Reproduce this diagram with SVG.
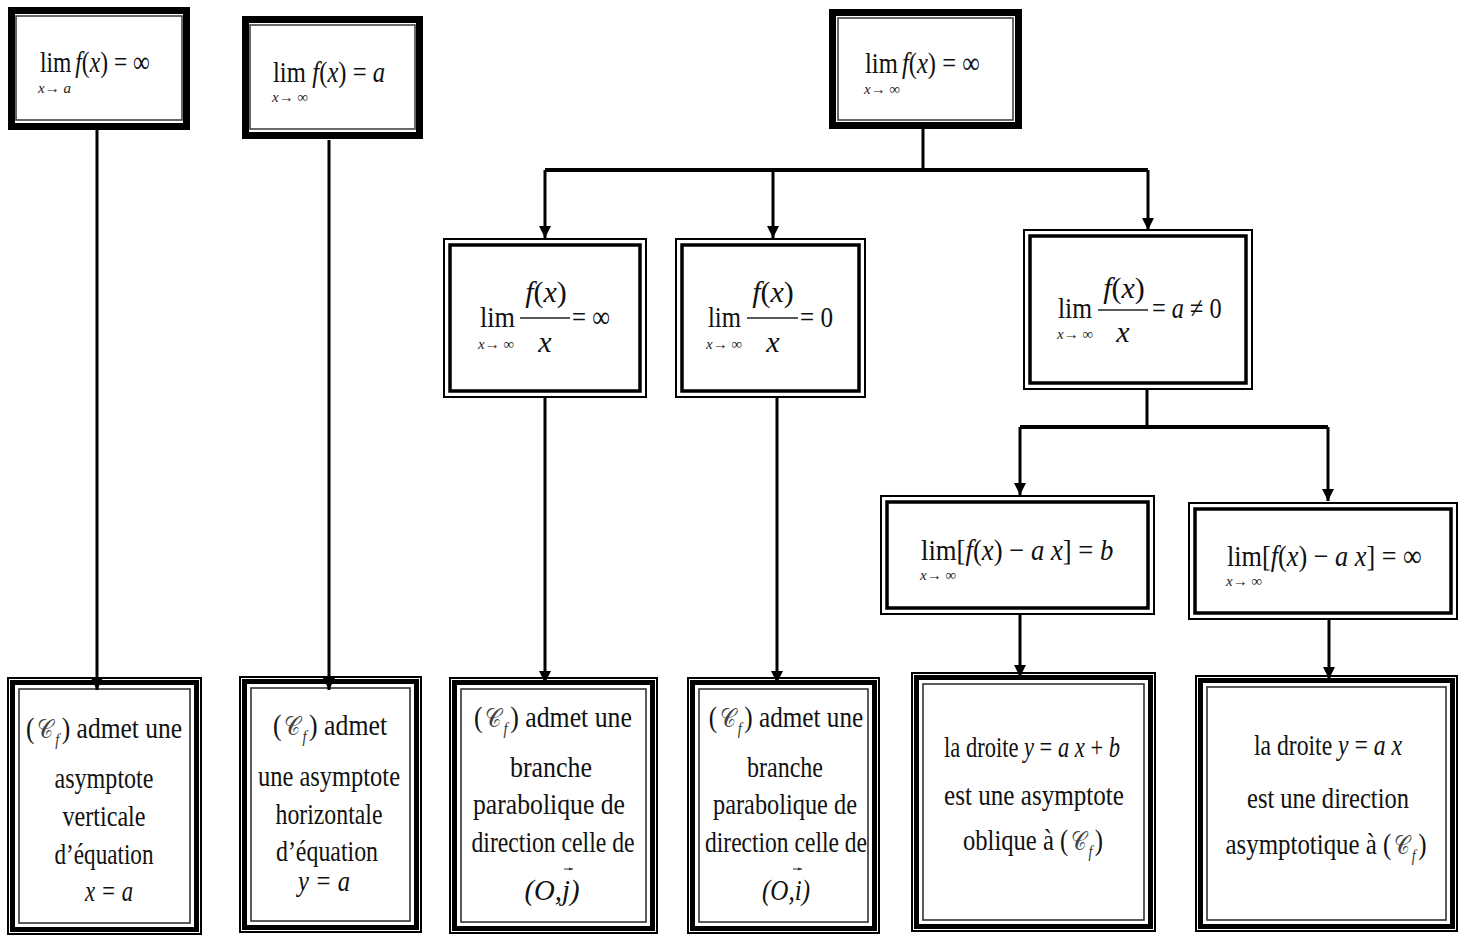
<svg xmlns="http://www.w3.org/2000/svg" width="1467" height="937" viewBox="0 0 1467 937">
<style>
.t{font-family:"Liberation Serif","DejaVu Serif",serif;fill:#111;font-size:30px}
.sub{font-family:"Liberation Serif",serif;fill:#222;font-size:15px}
.i{font-style:italic}
.scr{font-family:"DejaVu Serif","DejaVu Sans",serif;fill:#444;font-size:26px}
.fs{font-family:"Liberation Serif",serif;font-style:italic;fill:#333;font-size:17px}
.o1{fill:#fff;stroke:#000;stroke-width:7}
.o2{fill:none;stroke:#444;stroke-width:1.6}
.m1{fill:#fff;stroke:#000;stroke-width:2}
.m2{fill:none;stroke:#000;stroke-width:3.5}
.b1{fill:#fff;stroke:#000;stroke-width:2}
.b2{fill:none;stroke:#000;stroke-width:5}
.b3{fill:none;stroke:#333;stroke-width:1.6}
.c{fill:none;stroke:#000;stroke-width:3}
.h{fill:none;stroke:#000;stroke-width:4}
.fl{stroke:#222;stroke-width:1.6}
.va{fill:none;stroke:#333;stroke-width:1}
</style>
<defs>
<marker id="ah" viewBox="0 0 10 10" refX="10" refY="5" markerWidth="4" markerHeight="4.5" orient="auto" markerUnits="strokeWidth">
<path d="M0,0 L10,5 L0,10 z" fill="#000"/>
</marker>
<marker id="va" viewBox="0 0 10 10" refX="10" refY="5" markerWidth="4" markerHeight="4" orient="auto" markerUnits="strokeWidth">
<path d="M0,1 L10,5 L0,9 z" fill="#333"/>
</marker>
</defs>

<g id="top1">
<rect class="o1" x="11.5" y="10.5" width="175" height="116"/>
<rect class="o2" x="16" y="16" width="166" height="104"/>
<text class="t" font-size="32" transform="translate(40,72) scale(0.785,1)">lim<tspan dx="5" class="i">f</tspan>(<tspan class="i">x</tspan>) = ∞</text>
<text class="sub" x="38" y="93"><tspan class="i">x</tspan>→ <tspan class="i">a</tspan></text>
</g>

<g id="top2">
<rect class="o1" x="245.5" y="19.5" width="174" height="116"/>
<rect class="o2" x="250" y="25" width="165" height="104"/>
<text class="t" font-size="32" transform="translate(273,82) scale(0.82,1)">lim<tspan dx="8" class="i">f</tspan>(<tspan class="i">x</tspan>) = <tspan class="i">a</tspan></text>
<text class="sub" x="272" y="102"><tspan class="i">x</tspan>→ ∞</text>
</g>

<g id="top3">
<rect class="o1" x="832.5" y="12.5" width="186" height="113"/>
<rect class="o2" x="838" y="18" width="175" height="102"/>
<text class="t" font-size="32" transform="translate(865,73) scale(0.82,1)">lim<tspan dx="5" class="i">f</tspan>(<tspan class="i">x</tspan>) = ∞</text>
<text class="sub" x="864" y="94"><tspan class="i">x</tspan>→ ∞</text>
</g>

<g id="midA">
<rect class="m1" x="444" y="239" width="202" height="158"/>
<rect class="m2" x="450" y="245" width="190" height="146"/>
<text class="t" x="480" y="327" textLength="35" lengthAdjust="spacingAndGlyphs">lim</text>
<text class="sub" x="478" y="349" font-size="14"><tspan class="i">x</tspan>→ ∞</text>
<text class="t" x="546" y="302" text-anchor="middle"><tspan class="i">f</tspan>(<tspan class="i">x</tspan>)</text>
<line class="fl" x1="520" y1="318" x2="570" y2="318"/>
<text class="t i" x="545" y="352" text-anchor="middle">x</text>
<text class="t" x="572" y="327" textLength="38" lengthAdjust="spacingAndGlyphs">= ∞</text>
</g>

<g id="midB">
<rect class="m1" x="676" y="239" width="189" height="158"/>
<rect class="m2" x="682" y="245" width="177" height="146"/>
<text class="t" x="708" y="327" textLength="33" lengthAdjust="spacingAndGlyphs">lim</text>
<text class="sub" x="706" y="349" font-size="14"><tspan class="i">x</tspan>→ ∞</text>
<text class="t" x="773" y="302" text-anchor="middle"><tspan class="i">f</tspan>(<tspan class="i">x</tspan>)</text>
<line class="fl" x1="747" y1="318" x2="798" y2="318"/>
<text class="t i" x="773" y="352" text-anchor="middle">x</text>
<text class="t" x="800" y="327" textLength="33" lengthAdjust="spacingAndGlyphs">= 0</text>
</g>

<g id="midC">
<rect class="m1" x="1024" y="230" width="228" height="159"/>
<rect class="m2" x="1030" y="236" width="216" height="147"/>
<text class="t" x="1058" y="318" textLength="34" lengthAdjust="spacingAndGlyphs">lim</text>
<text class="sub" x="1057" y="339" font-size="14"><tspan class="i">x</tspan>→ ∞</text>
<text class="t" x="1124" y="298" text-anchor="middle"><tspan class="i">f</tspan>(<tspan class="i">x</tspan>)</text>
<line class="fl" x1="1098" y1="310" x2="1148" y2="310"/>
<text class="t i" x="1123" y="342" text-anchor="middle">x</text>
<text class="t" transform="translate(1152,318) scale(0.81,1)">= <tspan class="i">a</tspan> ≠ 0</text>
</g>

<g id="midD">
<rect class="m1" x="881" y="496" width="273" height="118"/>
<rect class="m2" x="887" y="502" width="261" height="106"/>
<text class="t" transform="translate(921,560) scale(0.89,1)">lim[<tspan class="i">f</tspan>(<tspan class="i">x</tspan>) − <tspan class="i">a x</tspan>] = <tspan class="i">b</tspan></text>
<text class="sub" x="920" y="580"><tspan class="i">x</tspan>→ ∞</text>
</g>

<g id="midE">
<rect class="m1" x="1189" y="503" width="268" height="116"/>
<rect class="m2" x="1195" y="509" width="256" height="104"/>
<text class="t" transform="translate(1227,566) scale(0.875,1)">lim[<tspan class="i">f</tspan>(<tspan class="i">x</tspan>) − <tspan class="i">a x</tspan>] = ∞</text>
<text class="sub" x="1226" y="586"><tspan class="i">x</tspan>→ ∞</text>
</g>

<g id="bot1">
<rect class="b1" x="8" y="678" width="193" height="256"/>
<rect class="b2" x="12.5" y="682.5" width="184" height="247"/>
<rect class="b3" x="19" y="689" width="171" height="234"/>
<text class="t" text-anchor="middle" transform="translate(104,738) scale(0.85,1)">(<tspan class="scr" dx="3">𝒞</tspan><tspan class="fs" dx="2" dy="7">f</tspan><tspan dy="-7" dx="3">) admet une</tspan></text>
<text class="t" x="104" y="788" text-anchor="middle" textLength="99" lengthAdjust="spacingAndGlyphs">asymptote</text>
<text class="t" x="104" y="826" text-anchor="middle" textLength="83" lengthAdjust="spacingAndGlyphs">verticale</text>
<text class="t" x="104" y="864" text-anchor="middle" textLength="99" lengthAdjust="spacingAndGlyphs">d’équation</text>
<text class="t i" x="109" y="901" text-anchor="middle" font-size="32" textLength="48" lengthAdjust="spacingAndGlyphs">x = a</text>
</g>

<g id="bot2">
<rect class="b1" x="240" y="677" width="181" height="255"/>
<rect class="b2" x="244.5" y="681.5" width="172" height="246"/>
<rect class="b3" x="251" y="688" width="159" height="233"/>
<text class="t" text-anchor="middle" transform="translate(330,735) scale(0.86,1)">(<tspan class="scr" dx="3">𝒞</tspan><tspan class="fs" dx="2" dy="7">f</tspan><tspan dy="-7" dx="3">) admet</tspan></text>
<text class="t" x="329" y="786" text-anchor="middle" textLength="142" lengthAdjust="spacingAndGlyphs">une asymptote</text>
<text class="t" x="329" y="824" text-anchor="middle" textLength="107" lengthAdjust="spacingAndGlyphs">horizontale</text>
<text class="t" x="327" y="861" text-anchor="middle" textLength="102" lengthAdjust="spacingAndGlyphs">d’équation</text>
<text class="t i" x="324" y="891" text-anchor="middle" textLength="52" lengthAdjust="spacingAndGlyphs">y = a</text>
</g>

<g id="bot3">
<rect class="b1" x="450" y="678" width="207" height="255"/>
<rect class="b2" x="454.5" y="682.5" width="198" height="246"/>
<rect class="b3" x="461" y="689" width="185" height="233"/>
<text class="t" text-anchor="middle" transform="translate(553,727) scale(0.86,1)">(<tspan class="scr" dx="3">𝒞</tspan><tspan class="fs" dx="2" dy="7">f</tspan><tspan dy="-7" dx="3">) admet une</tspan></text>
<text class="t" x="551" y="777" text-anchor="middle" textLength="82" lengthAdjust="spacingAndGlyphs">branche</text>
<text class="t" x="549" y="814" text-anchor="middle" textLength="152" lengthAdjust="spacingAndGlyphs">parabolique de</text>
<text class="t" x="553" y="852" text-anchor="middle" textLength="163" lengthAdjust="spacingAndGlyphs">direction celle de</text>
<text class="t i" x="552" y="900" text-anchor="middle" font-size="32" textLength="55" lengthAdjust="spacingAndGlyphs">(O,j)</text>
<path class="va" d="M564,869 H573" marker-end="url(#va)"/>
</g>

<g id="bot4">
<rect class="b1" x="688" y="678" width="191" height="255"/>
<rect class="b2" x="692.5" y="682.5" width="182" height="246"/>
<rect class="b3" x="699" y="689" width="169" height="233"/>
<text class="t" text-anchor="middle" transform="translate(786,727) scale(0.84,1)">(<tspan class="scr" dx="3">𝒞</tspan><tspan class="fs" dx="2" dy="7">f</tspan><tspan dy="-7" dx="3">) admet une</tspan></text>
<text class="t" x="785" y="777" text-anchor="middle" textLength="76" lengthAdjust="spacingAndGlyphs">branche</text>
<text class="t" x="785" y="814" text-anchor="middle" textLength="144" lengthAdjust="spacingAndGlyphs">parabolique de</text>
<text class="t" x="786" y="852" text-anchor="middle" textLength="162" lengthAdjust="spacingAndGlyphs">direction celle de</text>
<text class="t i" x="786" y="900" text-anchor="middle" font-size="32" textLength="48" lengthAdjust="spacingAndGlyphs">(O,i)</text>
<path class="va" d="M793,869 H802" marker-end="url(#va)"/>
</g>

<g id="bot5">
<rect class="b1" x="912" y="673" width="243" height="258"/>
<rect class="b2" x="916.5" y="677.5" width="234" height="249"/>
<rect class="b3" x="923" y="684" width="221" height="236"/>
<text class="t" text-anchor="middle" transform="translate(1032,757) scale(0.75,1)">la droite  <tspan class="i">y</tspan> = <tspan class="i">a x</tspan> + <tspan class="i">b</tspan></text>
<text class="t" x="1034" y="805" text-anchor="middle" textLength="180" lengthAdjust="spacingAndGlyphs">est une  asymptote</text>
<text class="t" text-anchor="middle" transform="translate(1033,850) scale(0.82,1)">oblique à (<tspan class="scr" dx="3">𝒞</tspan><tspan class="fs" dx="2" dy="7">f</tspan><tspan dy="-7" dx="3">)</tspan></text>
</g>

<g id="bot6">
<rect class="b1" x="1196" y="676" width="261" height="255"/>
<rect class="b2" x="1200.5" y="680.5" width="252" height="246"/>
<rect class="b3" x="1207" y="687" width="239" height="233"/>
<text class="t" text-anchor="middle" transform="translate(1328,755) scale(0.79,1)">la droite  <tspan class="i">y</tspan> = <tspan class="i">a x</tspan></text>
<text class="t" x="1328" y="808" text-anchor="middle" textLength="162" lengthAdjust="spacingAndGlyphs">est une direction</text>
<text class="t" text-anchor="middle" transform="translate(1326,854) scale(0.83,1)">asymptotique à (<tspan class="scr" dx="3">𝒞</tspan><tspan class="fs" dx="2" dy="7">f</tspan><tspan dy="-7" dx="3">)</tspan></text>
</g>

<g id="connectors">
<path class="c" d="M97,130 V690" marker-end="url(#ah)"/>
<path class="c" d="M329,140 V690" marker-end="url(#ah)"/>
<path class="c" d="M923,128 V170"/>
<path class="h" d="M545,170 H1148"/>
<path class="c" d="M545,170 V238" marker-end="url(#ah)"/>
<path class="c" d="M773,170 V238" marker-end="url(#ah)"/>
<path class="c" d="M1148,170 V230" marker-end="url(#ah)"/>
<path class="c" d="M545,398 V683" marker-end="url(#ah)"/>
<path class="c" d="M777,398 V683" marker-end="url(#ah)"/>
<path class="c" d="M1147,390 V427"/>
<path class="h" d="M1020,427 H1328"/>
<path class="c" d="M1020,427 V495" marker-end="url(#ah)"/>
<path class="c" d="M1328,427 V501" marker-end="url(#ah)"/>
<path class="c" d="M1020,615 V677" marker-end="url(#ah)"/>
<path class="c" d="M1329,620 V679" marker-end="url(#ah)"/>
</g>
</svg>
